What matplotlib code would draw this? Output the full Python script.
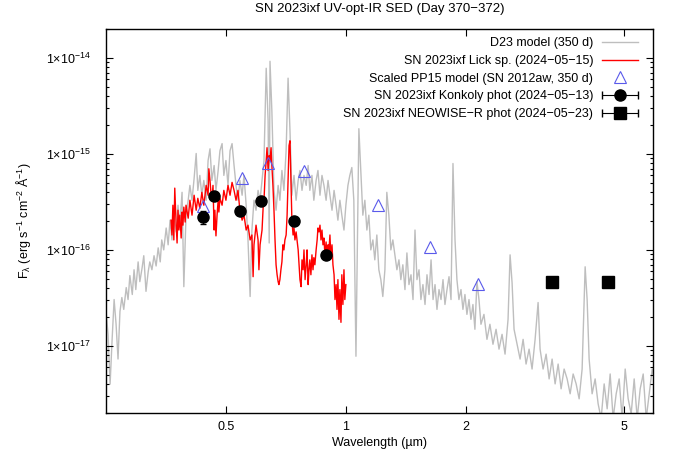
import matplotlib
matplotlib.use('Agg')
import numpy as np
import matplotlib.pyplot as plt
from matplotlib.container import ErrorbarContainer
from matplotlib.legend_handler import HandlerErrorbar
from matplotlib.ticker import FixedLocator, FixedFormatter, LogLocator, NullLocator, NullFormatter

# fluxes below are in units of 1e-16 erg/s/cm^2/A, wavelengths in micron
FLUX_UNIT = 1e-16

d23_wave = [0.250, 0.253, 0.256, 0.259, 0.262, 0.265, 0.268, 0.271, 0.274, 0.277,
            0.281, 0.284, 0.287, 0.291, 0.294, 0.297, 0.301, 0.304, 0.308, 0.311,
            0.315, 0.319, 0.322, 0.326, 0.330, 0.334, 0.338, 0.342, 0.345, 0.349,
            0.354, 0.358, 0.362, 0.366, 0.370, 0.375, 0.379, 0.383, 0.388, 0.392,
            0.397, 0.402, 0.406, 0.411, 0.416, 0.421, 0.425, 0.430, 0.435, 0.440,
            0.446, 0.451, 0.456, 0.461, 0.467, 0.472, 0.478, 0.483, 0.489, 0.494,
            0.500, 0.506, 0.512, 0.518, 0.524, 0.530, 0.536, 0.542, 0.549, 0.555,
            0.562, 0.568, 0.575, 0.581, 0.588, 0.595, 0.602, 0.609, 0.616, 0.623,
            0.631, 0.638, 0.642, 0.645, 0.652, 0.660, 0.668, 0.676, 0.683, 0.691,
            0.699, 0.708, 0.716, 0.724, 0.732, 0.741, 0.750, 0.759, 0.767, 0.776,
            0.785, 0.795, 0.804, 0.812, 0.822, 0.831, 0.842, 0.851, 0.861, 0.871,
            0.881, 0.892, 0.902, 0.912, 0.923, 0.934, 0.945, 0.955, 0.966, 0.977,
            0.989, 1.000, 1.012, 1.023, 1.035, 1.047, 1.060, 1.072, 1.078, 1.090,
            1.103, 1.116, 1.129, 1.142, 1.155, 1.169, 1.182, 1.196, 1.210, 1.224,
            1.238, 1.253, 1.267, 1.282, 1.297, 1.312, 1.327, 1.343, 1.359, 1.374,
            1.390, 1.407, 1.423, 1.440, 1.457, 1.474, 1.491, 1.508, 1.526, 1.543,
            1.561, 1.580, 1.598, 1.617, 1.636, 1.655, 1.674, 1.693, 1.713, 1.733,
            1.753, 1.773, 1.794, 1.815, 1.836, 1.857, 1.879, 1.900, 1.922, 1.945,
            1.967, 1.990, 2.013, 2.037, 2.060, 2.084, 2.108, 2.133, 2.158, 2.183,
            2.221, 2.260, 2.299, 2.340, 2.382, 2.423, 2.466, 2.509, 2.553, 2.583,
            2.613, 2.643, 2.690, 2.737, 2.785, 2.833, 2.883, 2.933, 2.985, 3.037,
            3.072, 3.126, 3.181, 3.237, 3.293, 3.351, 3.410, 3.469, 3.530, 3.592,
            3.655, 3.719, 3.784, 3.850, 3.917, 3.986, 4.032, 4.079, 4.150, 4.223,
            4.297, 4.372, 4.449, 4.527, 4.606, 4.686, 4.769, 4.852, 4.937, 5.024,
            5.111, 5.201, 5.292, 5.385, 5.479, 5.575, 5.673, 5.772, 5.873, 5.976]
d23_flux = [0.228, 0.132, 0.040, 0.117, 0.304, 0.168, 0.073, 0.228, 0.319, 0.240,
            0.405, 0.304, 0.54, 0.343, 0.621, 0.386, 0.75, 0.467, 0.65, 0.87,
            0.37, 0.59, 0.75, 0.621, 0.87, 0.68, 1.05, 0.75, 1.27, 1.00,
            1.69, 1.13, 2.04, 1.27, 2.30, 1.54, 2.92, 1.81, 3.98, 0.414,
            2.30, 3.29, 4.70, 3.29, 5.55, 10.1, 4.17, 5.97, 3.71, 5.29,
            3.29, 8.53, 11.3, 5.29, 7.57, 4.17, 6.72, 10.8, 12.8, 5.97,
            8.53, 4.70, 10.8, 12.8, 7.57, 4.70, 3.29, 5.29, 3.71, 5.97,
            2.92, 1.27, 0.327, 1.61, 3.29, 2.59, 4.17, 3.29, 5.29, 8.53,
            78.0, 22.1, 1.18, 92.2, 28.0, 4.17, 2.59, 4.70, 3.29, 6.72,
            4.17, 10.8, 61.5, 17.4, 3.71, 5.97, 3.29, 5.29, 6.72, 4.17,
            5.97, 4.70, 7.57, 4.17, 5.97, 3.29, 5.29, 6.72, 3.71, 5.97,
            4.70, 3.29, 5.29, 3.71, 2.59, 4.17, 2.92, 2.04, 3.29, 2.30,
            1.61, 2.92, 4.70, 5.97, 7.21, 3.29, 0.078, 3.29, 18.3, 6.72,
            2.30, 3.29, 1.61, 2.30, 1.00, 1.27, 0.788, 1.43, 0.621, 0.490,
            0.327, 0.621, 3.98, 2.30, 1.00, 1.27, 0.888, 0.621, 0.788, 0.490,
            0.700, 0.386, 0.93, 0.435, 0.551, 0.304, 1.61, 0.490, 0.621, 0.304,
            0.435, 0.270, 0.551, 0.343, 0.788, 0.304, 0.435, 0.240, 0.386, 0.304,
            0.490, 0.270, 0.386, 0.526, 0.304, 7.94, 1.27, 0.490, 0.304, 0.386,
            0.240, 0.343, 0.213, 0.304, 0.189, 0.270, 0.149, 0.467, 0.304, 0.168,
            0.213, 0.117, 0.168, 0.104, 0.149, 0.0925, 0.132, 0.0821, 0.189, 0.888,
            0.455, 0.149, 0.104, 0.0729, 0.117, 0.0647, 0.0925, 0.0574, 0.117, 0.283,
            0.0925, 0.0574, 0.0821, 0.0453, 0.0729, 0.0402, 0.0647, 0.0357, 0.0574, 0.0453,
            0.0317, 0.0510, 0.0402, 0.0281, 0.0574, 0.667, 0.304, 0.0729, 0.0317, 0.0453,
            0.0249, 0.0175, 0.0402, 0.0221, 0.0510, 0.0175, 0.0317, 0.0453, 0.0175, 0.0574,
            0.0281, 0.0196, 0.0453, 0.0175, 0.0357, 0.0510, 0.0175, 0.0317, 0.0574, 0.0402]

lick_wave = [0.364, 0.366, 0.368, 0.370, 0.372, 0.375, 0.377, 0.379, 0.381, 0.383,
             0.386, 0.388, 0.390, 0.392, 0.395, 0.397, 0.402, 0.406, 0.411, 0.416,
             0.421, 0.425, 0.430, 0.435, 0.440, 0.446, 0.451, 0.453, 0.456, 0.458,
             0.461, 0.464, 0.467, 0.469, 0.472, 0.475, 0.478, 0.480, 0.483, 0.489,
             0.494, 0.500, 0.506, 0.512, 0.518, 0.524, 0.530, 0.536, 0.542, 0.549,
             0.555, 0.562, 0.568, 0.575, 0.581, 0.585, 0.588, 0.595, 0.602, 0.605,
             0.609, 0.616, 0.620, 0.623, 0.627, 0.631, 0.634, 0.638, 0.642, 0.645,
             0.649, 0.652, 0.656, 0.660, 0.664, 0.668, 0.672, 0.676, 0.679, 0.683,
             0.687, 0.691, 0.695, 0.699, 0.703, 0.708, 0.712, 0.716, 0.720, 0.724,
             0.728, 0.732, 0.737, 0.741, 0.745, 0.750, 0.754, 0.759, 0.763, 0.767,
             0.772, 0.776, 0.781, 0.785, 0.790, 0.795, 0.799, 0.804, 0.808, 0.812,
             0.817, 0.822, 0.827, 0.831, 0.836, 0.842, 0.847, 0.851, 0.856, 0.861,
             0.866, 0.871, 0.876, 0.881, 0.886, 0.892, 0.897, 0.902, 0.907, 0.912,
             0.917, 0.923, 0.928, 0.934, 0.939, 0.945, 0.950, 0.955, 0.961, 0.966,
             0.972, 0.977, 0.983, 0.989, 0.994, 1.000]
lick_flux = [2.04, 1.43, 2.92, 1.27, 4.4, 1.81, 1.18, 2.59, 1.61, 2.30,
             1.33, 2.48, 1.81, 2.79, 1.95, 2.92, 2.14, 3.29, 2.30, 3.71,
             2.59, 3.45, 2.71, 3.98, 2.92, 4.70, 3.71, 7.0, 5.29, 4.17,
             3.29, 4.70, 1.61, 2.59, 1.40, 2.30, 3.29, 2.48, 3.45, 2.92,
             4.17, 3.29, 4.70, 3.71, 5.05, 4.17, 3.29, 4.17, 2.59, 2.04,
             2.30, 1.61, 1.81, 1.27, 1.43, 0.526, 1.13, 1.81, 1.27, 0.621,
             1.13, 1.61, 2.79, 3.29, 5.97, 8.53, 11.6, 6.72, 9.60, 8.53,
             11.6, 7.57, 4.70, 2.59, 1.27, 0.700, 0.551, 0.467, 0.435, 0.490,
             0.621, 0.75, 1.13, 1.00, 1.27, 1.43, 2.30, 5.29, 12.2, 13.7,
             5.29, 2.04, 1.43, 1.69, 1.27, 1.54, 1.27, 1.00, 0.700, 0.490,
             0.414, 0.788, 0.621, 1.00, 0.490, 0.700, 1.00, 0.435, 0.621, 0.788,
             0.551, 0.888, 0.621, 0.83, 0.700, 1.00, 1.27, 1.69, 1.54, 1.81,
             1.27, 1.61, 1.13, 1.33, 0.888, 1.21, 0.788, 1.13, 1.00, 1.43,
             0.83, 1.13, 0.700, 0.551, 0.304, 0.435, 0.240, 0.490, 0.189, 0.386,
             0.176, 0.551, 0.270, 0.621, 0.304, 0.435]

pp15_wave = [0.438, 0.549, 0.638, 0.786, 1.203, 1.625, 2.14]
pp15_flux = [2.87, 5.64, 8.0, 6.6, 2.92, 1.07, 0.445]

konkoly_wave = [0.437, 0.466, 0.543, 0.613, 0.742, 0.889]
konkoly_flux = [2.18, 3.61, 2.55, 3.24, 2.01, 0.894]
konkoly_err = [0.34, 0.10, 0.10, 0.10, 0.08, 0.05]

neowise_wave = [3.30, 4.54]
neowise_flux = [0.467, 0.459]

ytick_values = [1e-17, 1e-16, 1e-15, 1e-14]
ytick_labels = [r'$1{\times}10^{-17}$', r'$1{\times}10^{-16}$',
                r'$1{\times}10^{-15}$', r'$1{\times}10^{-14}$']
xtick_values = [0.5, 1, 2, 5]
xtick_labels = ['0.5', '1', '2', '5']


def scaled(values):
    """
    Turn a list of fluxes in units of 1e-16 into cgs values
    :param values: list of fluxes
    :return: numpy array of fluxes
    """
    return np.asarray(values) * FLUX_UNIT


def style_axes(ax):
    """
    Log axes, gnuplot-like inward ticks on all four sides
    :param ax: the axes
    :return: None
    """
    ax.set_xscale('log')
    ax.set_yscale('log')
    ax.set_xlim(0.25, 5.9)
    ax.set_ylim(2e-18, 2e-14)
    ax.xaxis.set_major_locator(FixedLocator(xtick_values))
    ax.xaxis.set_major_formatter(FixedFormatter(xtick_labels))
    ax.xaxis.set_minor_locator(NullLocator())
    ax.yaxis.set_major_locator(FixedLocator(ytick_values))
    ax.yaxis.set_major_formatter(FixedFormatter(ytick_labels))
    ax.yaxis.set_minor_locator(LogLocator(base=10, subs=range(2, 10)))
    ax.yaxis.set_minor_formatter(NullFormatter())
    ax.tick_params(which='both', direction='in', top=True, right=True, width=0.8,
                   labelsize=9)
    ax.tick_params(which='major', length=5)
    ax.tick_params(which='minor', length=2.5)
    ax.tick_params(axis='x', pad=6)
    ax.tick_params(axis='y', pad=11)
    for spine in ax.spines.values():
        spine.set_linewidth(1.0)
    ax.set_xlabel('Wavelength (µm)', fontsize=9)
    ax.set_ylabel(r'F$_λ$ (erg s$^{-1}$ cm$^{-2}$ Å$^{-1}$)', fontsize=9)
    ax.xaxis.set_label_coords(0.5, -0.062)
    ax.yaxis.set_label_coords(-0.133, 0.5)


def main():
    plt.rcParams['font.family'] = ['Liberation Sans', 'DejaVu Sans']
    plt.rcParams['mathtext.fontset'] = 'custom'
    plt.rcParams['mathtext.rm'] = 'Liberation Sans'
    plt.rcParams['mathtext.it'] = 'Liberation Sans:italic'
    plt.rcParams['mathtext.default'] = 'regular'

    fig = plt.figure(figsize=(6.73, 4.62), dpi=100)
    ax = fig.add_axes([106 / 673, 49 / 462, 547 / 673, 384 / 462])

    d23, = ax.plot(d23_wave, scaled(d23_flux), color='#bebebe', lw=1.0, zorder=1,
                   label='D23 model (350 d)')
    lick, = ax.plot(lick_wave, scaled(lick_flux), color='#ff0000', lw=1.0, zorder=2,
                    label='SN 2023ixf Lick sp. (2024−05−15)')
    pp15, = ax.plot(pp15_wave, scaled(pp15_flux), ls='none', marker='^', ms=8,
                    mfc='none', mec='#5a5aeb', mew=0.8, zorder=3,
                    label='Scaled PP15 model (SN 2012aw, 350 d)')
    ax.errorbar(konkoly_wave, scaled(konkoly_flux), yerr=scaled(konkoly_err),
                fmt='o', ms=8, color='black', ecolor='black', elinewidth=0.8,
                capsize=2, zorder=4)
    ax.plot(neowise_wave, scaled(neowise_flux), ls='none', marker='s', ms=8.5,
            color='black', zorder=4)

    # legend proxies: horizontal bar samples like gnuplot's key
    konk_key = ax.errorbar([np.nan], [np.nan], xerr=[1.0], fmt='o', ms=8,
                           color='black', elinewidth=0.8, capsize=3,
                           label='SN 2023ixf Konkoly phot (2024−05−13)')
    neo_key = ax.errorbar([np.nan], [np.nan], xerr=[1.0], fmt='s', ms=8.5,
                          color='black', elinewidth=0.8, capsize=3,
                          label='SN 2023ixf NEOWISE−R phot (2024−05−23)')

    style_axes(ax)

    ax.legend(handles=[d23, lick, pp15, konk_key, neo_key],
              loc='upper right', bbox_to_anchor=(0.9726, 0.978),
              frameon=False, markerfirst=False, fontsize=9,
              handlelength=2.9, handletextpad=0.7, labelspacing=0.45,
              borderpad=0, borderaxespad=0, numpoints=1,
              handler_map={ErrorbarContainer: HandlerErrorbar(xerr_size=1.42)})

    fig.text(379.5 / 673, 1 - 9 / 462, 'SN 2023ixf UV-opt-IR SED (Day 370−372)',
             ha='center', va='center', fontsize=9.5)

    fig.savefig('out.png', dpi=100)


if __name__ == '__main__':
    main()
